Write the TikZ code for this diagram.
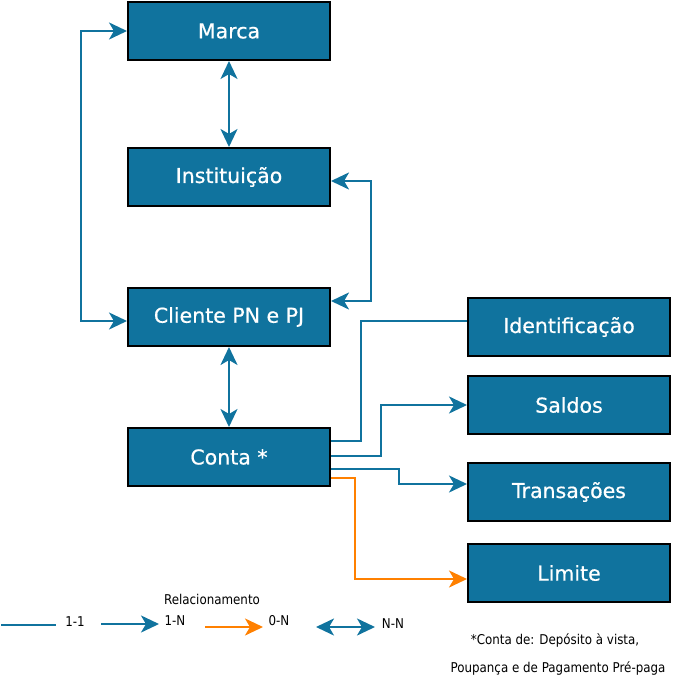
\documentclass[tikz,border=0pt]{standalone}
\usepackage{fontspec}
\setmainfont{DejaVu Sans}
\newfontfamily\boxfont[FakeBold=0.6]{DejaVu Sans}
\newfontfamily\legfont[FakeStretch=0.88]{DejaVu Sans}
\usetikzlibrary{arrows.meta}
\definecolor{blu}{HTML}{10739E}
\definecolor{org}{HTML}{FF8000}
\begin{document}
\begin{tikzpicture}[x=1pt,y=-1pt,
  box/.style={draw=black,line width=2pt,fill=blu,text=white,minimum width=202pt,minimum height=58pt,inner sep=0pt,font=\boxfont\fontsize{20.5}{24}\selectfont},
  conn/.style={draw=blu,line width=2.4pt},
  tip/.style={-{Stealth[length=18pt,width=17pt,inset=5pt]}},
  dtip/.style={{Stealth[length=18pt,width=17pt,inset=5pt]}-{Stealth[length=18pt,width=17pt,inset=5pt]}},
  small/.style={font=\legfont\fontsize{13.5}{15}\selectfont,inner sep=0pt}]
\useasboundingbox (0,0) rectangle (674,682);
\node[box] (marca) at (229,31) {Marca};
\node[box] (inst) at (229,177) {Instituição};
\node[box] (cli) at (229,317) {Cliente PN e PJ};
\node[box] (conta) at (229,457) {Conta *};
\node[box] (ident) at (569,327) {Identificação};
\node[box] (saldos) at (569,405) {Saldos};
\node[box] (trans) at (569,492) {Transações};
\node[box] (lim) at (569,573) {Limite};
% connectors
\draw[conn,dtip] (marca.south) -- (inst.north);
\draw[conn,dtip] (cli.south) -- (conta.north);
\draw[conn,dtip] (marca.west) -- (81,31) -- (81,321) -- (cli.west |- 0,321);
\draw[conn,dtip] (inst.east |- 0,181) -- (371,181) -- (371,301) -- (cli.east |- 0,301);
\draw[conn] (conta.east |- 0,441) -- (361,441) -- (361,321) -- (ident.west |- 0,321);
\draw[conn,tip] (conta.east |- 0,456) -- (381,456) -- (381,405) -- (saldos.west);
\draw[conn,tip] (conta.east |- 0,469) -- (399,469) -- (399,484) -- (trans.west |- 0,484);
\draw[conn,draw=org,tip] (conta.east |- 0,478) -- (355,478) -- (355,579) -- (lim.west |- 0,579);
% legend
\node[small] (rel) at (212,599) {Relacionamento};
\coordinate (l1a) at (1,625);
\coordinate (l1b) at (56,625);
\draw[conn] (l1a) -- (l1b);
\node[small] (t11) at (75,622) {1-1};
\coordinate (l2a) at (101,624);
\coordinate (l2b) at (159,624);
\draw[conn,tip] (l2a) -- (l2b);
\node[small] (t1n) at (175,621) {1-N};
\coordinate (l3a) at (205,627);
\coordinate (l3b) at (263,627);
\draw[conn,draw=org,tip] (l3a) -- (l3b);
\node[small] (t0n) at (279,621) {0-N};
\coordinate (l4a) at (316,627);
\coordinate (l4b) at (375,627);
\draw[conn,dtip] (l4a) -- (l4b);
\node[small] (tnn) at (393,624) {N-N};
\node[small] (note1) at (555,640) {*Conta de: Depósito à vista,};
\node[small] (note2) at (558,668) {Poupança e de Pagamento Pré-paga};
\end{tikzpicture}
\end{document}
